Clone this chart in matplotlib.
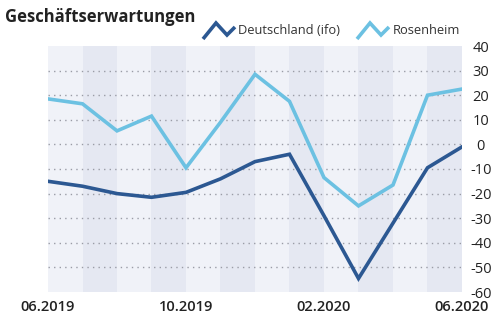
import matplotlib
matplotlib.use("Agg")
import matplotlib.pyplot as plt
from matplotlib.lines import Line2D

plt.rcParams['font.family'] = ['Open Sans', 'DejaVu Sans']

months = ['06.2019', '07.2019', '08.2019', '09.2019', '10.2019', '11.2019', '12.2019',
          '01.2020', '02.2020', '03.2020', '04.2020', '05.2020', '06.2020']
deutschland = [-15, -17, -20, -21.5, -19.5, -14, -7, -4, -29, -54.5, -32, -9.5, -1]
rosenheim = [18.5, 16.5, 5.5, 11.5, -9.5, 9, 28.5, 17.5, -13.5, -25, -16.5, 20, 22.5]
shown_xticks = ['06.2019', '10.2019', '02.2020', '06.2020']
yticks = [-60, -50, -40, -30, -20, -10, 0, 10, 20, 30, 40]

title = 'Geschäftserwartungen'
label_de = 'Deutschland (ifo)'
label_ro = 'Rosenheim'

c_dark = '#2C5892'
c_light = '#6CC1E2'
band_a = '#F0F2F8'
band_b = '#E5E8F2'

W, H = 500, 325
fig = plt.figure(figsize=(5, 3.25), dpi=100)
ax = fig.add_axes([48 / W, 1 - 292 / H, (462 - 48) / W, (292 - 46) / H])

x = list(range(len(months)))
ax.set_xlim(0, len(months) - 1)
ax.set_ylim(yticks[0], yticks[-1])

# alternating background bands
for i in range(len(months) - 1):
    ax.axvspan(i, i + 1, color=band_a if i % 2 == 0 else band_b, lw=0, zorder=0)

# dotted gridlines
for v in yticks[1:-1]:
    ax.axhline(v, color='#9A9CA6', lw=1.0, ls=(0, (1, 3)), zorder=1)

ax.plot(x, rosenheim, color=c_light, lw=2.6, solid_joinstyle='miter', zorder=3)
ax.plot(x, deutschland, color=c_dark, lw=2.6, solid_joinstyle='miter', zorder=3)

for s in ax.spines.values():
    s.set_visible(False)

ax.set_xticks([months.index(m) for m in shown_xticks])
ax.set_xticklabels(shown_xticks, fontsize=10.5, fontweight='semibold', color='#222222')
ax.tick_params(axis='x', length=0, pad=6)

ax.yaxis.tick_right()
ax.set_yticks(yticks)
ax.set_yticklabels([str(v) for v in yticks], fontsize=10.5, color='#222222')
ax.tick_params(axis='y', length=0, pad=13.5)
for t in ax.get_yticklabels():
    t.set_horizontalalignment('center')

# title
fig.text(5 / W, 1 - 17 / H, title, fontsize=12, fontweight='bold', color='#222222',
         ha='left', va='center')

# legend icons (zigzag)
def zig(x0, color):
    xs = [x0, x0 + 13, x0 + 24, x0 + 32]
    ys = [39, 23, 35, 27]
    fig.add_artist(Line2D([v / W for v in xs], [1 - v / H for v in ys],
                          transform=fig.transFigure, color=color, lw=2.6,
                          solid_joinstyle='miter', solid_capstyle='butt'))

zig(203, c_dark)
fig.text(238 / W, 1 - 31 / H, label_de, fontsize=9.3, color='#333333', ha='left', va='center')
zig(357, c_light)
fig.text(393 / W, 1 - 31 / H, label_ro, fontsize=9.3, color='#333333', ha='left', va='center')

fig.savefig('out.png', dpi=100, facecolor='white')
